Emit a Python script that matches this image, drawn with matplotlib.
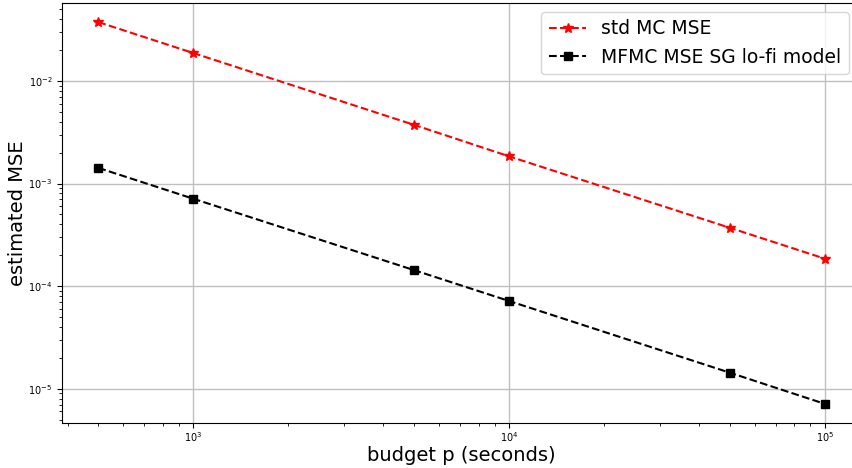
import matplotlib.pyplot as plt

budget = [500, 1000, 5000, 10000, 50000, 100000]
mse_mc = [0.0375, 0.0187, 0.00373, 0.00184, 0.00037, 0.000185]
mse_mfmc = [0.00142, 0.00071, 0.000143, 0.0000715, 0.0000143, 0.0000071]

fig = plt.figure(figsize=(8.52, 4.68), dpi=100)
ax = fig.add_axes([0.0728, 0.0962, 0.938, 0.8974])

ax.loglog(budget, mse_mc, 'r--*', markersize=7, linewidth=1.5, label='std MC MSE')
ax.loglog(budget, mse_mfmc, 'k--s', markersize=6, linewidth=1.5, label='MFMC MSE SG lo-fi model')

ax.grid(True, which='major', color='#c0c0c0', linewidth=1)
ax.tick_params(axis='both', which='major', labelsize=7)
ax.tick_params(axis='x', which='major', pad=2)
ax.set_xlabel('budget p (seconds)', fontsize=14, labelpad=1)
ax.set_ylabel('estimated MSE', fontsize=14, labelpad=1)

ax.legend(fontsize=13.5, loc='upper right', bbox_to_anchor=(849 / 852, 1 - 12 / 468),
          bbox_transform=fig.transFigure, borderaxespad=0)

fig.savefig('out.png', dpi=100)
